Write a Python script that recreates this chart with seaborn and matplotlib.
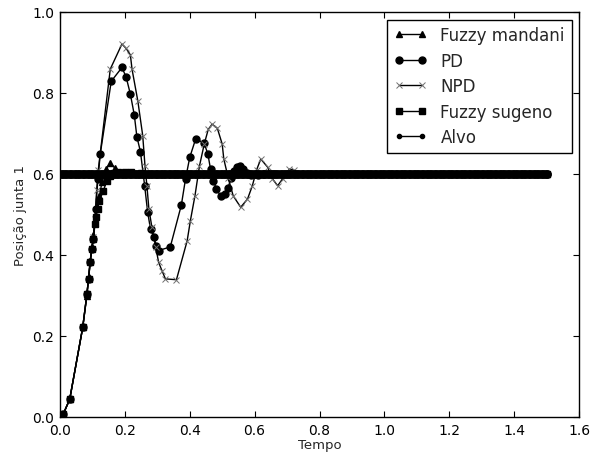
import numpy as np
import pandas as pd
import matplotlib
matplotlib.use("Agg")
import matplotlib.pyplot as plt
import seaborn as sns

# ---------------- data ----------------
mandani_t = [0.01, 0.03, 0.07, 0.083, 0.088, 0.093, 0.098, 0.103, 0.108, 0.113, 0.12, 0.13,
             0.142, 0.155, 0.17, 0.185, 0.2, 0.25, 0.3, 0.4, 1.5]
mandani_v = [0.007, 0.044, 0.221, 0.30, 0.345, 0.385, 0.42, 0.45, 0.48, 0.515, 0.545, 0.58,
             0.612, 0.627, 0.614, 0.604, 0.602, 0.601, 0.60, 0.60, 0.60]

pd_t = [0.01, 0.03, 0.07, 0.083, 0.088, 0.093, 0.098, 0.103, 0.11, 0.117, 0.124, 0.158, 0.191,
        0.204, 0.217, 0.229, 0.237, 0.248, 0.261, 0.270, 0.279, 0.289, 0.297, 0.304, 0.340,
        0.374, 0.387, 0.40, 0.418, 0.444, 0.456, 0.464, 0.473, 0.482, 0.495, 0.508, 0.518,
        0.527, 0.535, 0.545, 0.555, 0.565, 0.575, 0.59, 0.61, 0.63, 0.66, 0.7, 1.5]
pd_v = [0.007, 0.044, 0.221, 0.304, 0.341, 0.382, 0.415, 0.44, 0.514, 0.588, 0.649, 0.829, 0.863,
        0.839, 0.797, 0.746, 0.692, 0.655, 0.571, 0.507, 0.464, 0.445, 0.423, 0.411, 0.42,
        0.523, 0.588, 0.641, 0.686, 0.677, 0.649, 0.612, 0.583, 0.563, 0.546, 0.551, 0.565,
        0.59, 0.608, 0.617, 0.619, 0.612, 0.603, 0.598, 0.598, 0.601, 0.601, 0.60, 0.60]

npd_t = [0.01, 0.03, 0.07, 0.083, 0.088, 0.093, 0.098, 0.103, 0.108, 0.113, 0.118, 0.155, 0.191,
         0.204, 0.217, 0.222, 0.24, 0.255, 0.262, 0.268, 0.274, 0.283, 0.295, 0.304, 0.315, 0.325,
         0.359, 0.392, 0.402, 0.416, 0.43, 0.445, 0.457, 0.469, 0.485, 0.50, 0.505, 0.519, 0.534,
         0.557, 0.578, 0.593, 0.606, 0.619, 0.64, 0.655, 0.671, 0.686, 0.707, 0.72, 0.74, 0.76,
         0.8, 1.5]
npd_v = [0.007, 0.044, 0.221, 0.304, 0.341, 0.382, 0.415, 0.445, 0.49, 0.56, 0.61, 0.859, 0.921,
         0.91, 0.894, 0.859, 0.78, 0.695, 0.62, 0.57, 0.514, 0.47, 0.42, 0.382, 0.36, 0.341,
         0.339, 0.435, 0.485, 0.546, 0.62, 0.675, 0.71, 0.723, 0.713, 0.674, 0.637, 0.589, 0.546,
         0.518, 0.538, 0.571, 0.61, 0.637, 0.617, 0.588, 0.571, 0.588, 0.612, 0.61, 0.602, 0.60,
         0.60, 0.60]

sugeno_t = [0.01, 0.03, 0.07, 0.083, 0.088, 0.093, 0.098, 0.103, 0.108, 0.110, 0.116, 0.121,
            0.134, 0.144, 0.155, 0.165, 0.18, 0.2, 0.22, 0.25, 0.3, 0.35, 1.5]
sugeno_v = [0.007, 0.044, 0.221, 0.304, 0.341, 0.382, 0.415, 0.44, 0.477, 0.495, 0.514, 0.534,
            0.559, 0.583, 0.595, 0.602, 0.604, 0.605, 0.604, 0.602, 0.601, 0.60, 0.60]

# target (setpoint) sampled densely along the simulation time
alvo_t = np.linspace(0.0, 1.5, 301)
alvo_v = np.full_like(alvo_t, 0.6)

labels = ["Fuzzy mandani", "PD", "NPD", "Fuzzy sugeno", "Alvo"]
x_ticks = [0.0, 0.2, 0.4, 0.6, 0.8, 1.0, 1.2, 1.4, 1.6]
y_ticks = [0.0, 0.2, 0.4, 0.6, 0.8, 1.0]

# ---------------- style ----------------
sns.set_style("white")
plt.rcParams["font.family"] = ["DejaVu Sans"]
plt.rcParams.update({
    "xtick.direction": "in", "ytick.direction": "in",
    "xtick.top": True, "ytick.right": True,
    "xtick.major.size": 4, "ytick.major.size": 4,
    "xtick.bottom": True, "ytick.left": True,
    "axes.edgecolor": "black", "axes.linewidth": 1.0,
})

fig = plt.figure(figsize=(6.0, 4.56), dpi=100)
ax = fig.add_axes([60 / 600, 1 - 418 / 456, (579 - 60) / 600, (418 - 13) / 456])

common = dict(ax=ax, estimator=None, sort=False, color="black", linewidth=1.0)

sns.lineplot(x=mandani_t, y=mandani_v, marker="^", markersize=5,
             markeredgecolor="black", markeredgewidth=1, label=labels[0], **common)
sns.lineplot(x=pd_t, y=pd_v, marker="o", markersize=5,
             markeredgecolor="black", markeredgewidth=1, label=labels[1], **common)
sns.lineplot(x=npd_t, y=npd_v, marker="x", markersize=5,
             markeredgecolor="#707070", markeredgewidth=0.7, label=labels[2], **common)
sns.lineplot(x=sugeno_t, y=sugeno_v, marker="s", markersize=5,
             markeredgecolor="black", markeredgewidth=1, label=labels[3], **common)
sns.lineplot(x=alvo_t, y=alvo_v, marker="o", markersize=5.2,
             markeredgecolor="black", markeredgewidth=1, label=labels[4], **common)

ax.set_xlim(0.0, 1.6)
ax.set_ylim(0.0, 1.0)
ax.set_xticks(x_ticks)
ax.set_yticks(y_ticks)
ax.set_xticklabels([f"{v:.1f}" for v in x_ticks], fontsize=10)
ax.set_yticklabels([f"{v:.1f}" for v in y_ticks], fontsize=10)
ax.tick_params(axis="both", which="major", pad=4, color="black", labelcolor="black")
for s in ax.spines.values():
    s.set_visible(True)
    s.set_color("black")

ax.set_xlabel("Tempo", fontsize=9.5, labelpad=1)
ax.set_ylabel("Posição junta 1", fontsize=9.5, labelpad=4)

leg = ax.legend(loc="upper right", fontsize=12, numpoints=2, fancybox=False,
                frameon=True, edgecolor="black", framealpha=1.0,
                borderaxespad=0.45, handlelength=2.0, labelspacing=0.45)
leg.get_frame().set_linewidth(1.0)
handles = leg.legend_handles
handles[4].set_marker(".")
handles[4].set_markersize(6)

fig.savefig("out.png", dpi=100)
